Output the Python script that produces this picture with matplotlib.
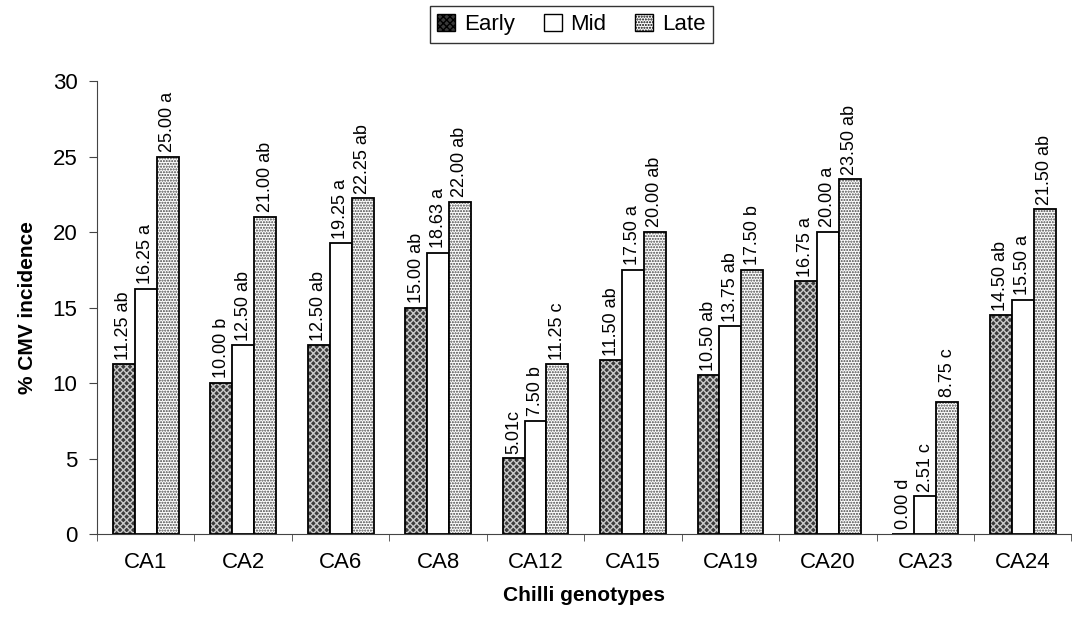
import numpy as np
import matplotlib
matplotlib.use('Agg')
import matplotlib.pyplot as plt
from matplotlib.patches import Patch

plt.rcParams['font.family'] = ['Liberation Sans', 'DejaVu Sans']

genotypes = ['CA1', 'CA2', 'CA6', 'CA8', 'CA12', 'CA15', 'CA19', 'CA20', 'CA23', 'CA24']
early = [11.25, 10.00, 12.50, 15.00, 5.01, 11.50, 10.50, 16.75, 0.00, 14.50]
mid = [16.25, 12.50, 19.25, 18.63, 7.50, 17.50, 13.75, 20.00, 2.51, 15.50]
late = [25.00, 21.00, 22.25, 22.00, 11.25, 20.00, 17.50, 23.50, 8.75, 21.50]
early_lbl = ['11.25 ab', '10.00 b', '12.50 ab', '15.00 ab', '5.01c', '11.50 ab', '10.50 ab', '16.75 a', '0.00 d', '14.50 ab']
mid_lbl = ['16.25 a', '12.50 ab', '19.25 a', '18.63 a', '7.50 b', '17.50 a', '13.75 ab', '20.00 a', '2.51 c', '15.50 a']
late_lbl = ['25.00 a', '21.00 ab', '22.25 ab', '22.00 ab', '11.25 c', '20.00 ab', '17.50 b', '23.50 ab', '8.75 c', '21.50 ab']

fig = plt.figure(figsize=(10.72, 6.17), dpi=100)
ax = fig.add_axes([0.0905, 0.1345, 0.909, 0.7342])

x = np.arange(len(genotypes))
w = 0.225

# Early: dark with light cross pattern
ax.bar(x - w, early, w, color='#3a3a3a', hatch='xxxxx', edgecolor='#c8c8c8', linewidth=0)
ax.bar(x - w, early, w, fill=False, edgecolor='black', linewidth=1.3)
# Mid: plain white
ax.bar(x, mid, w, color='white', edgecolor='black', linewidth=1.3)
# Late: white with dots
ax.bar(x + w, late, w, color='white', hatch='......', edgecolor='#444444', linewidth=0)
ax.bar(x + w, late, w, fill=False, edgecolor='black', linewidth=1.3)

for vals, lbls, off in [(early, early_lbl, -w), (mid, mid_lbl, 0), (late, late_lbl, w)]:
    for xi, v, t in zip(x, vals, lbls):
        ax.text(xi + off, v + 0.3, t, rotation=90, ha='center', va='bottom', fontsize=13)

ax.set_xlim(-0.5, len(genotypes) - 0.5)
ax.set_ylim(0, 30)
ax.set_yticks([0, 5, 10, 15, 20, 25, 30])
ax.set_xticks(x)
ax.set_xticklabels(genotypes)
ax.set_xticks(np.arange(len(genotypes) + 1) - 0.5, minor=True)
ax.tick_params(axis='x', which='major', length=0, pad=13, labelsize=16)
ax.tick_params(axis='x', which='minor', length=5, direction='out', color='#444444')
ax.tick_params(axis='y', length=6, direction='out', labelsize=16, pad=8, color='#444444')
ax.spines['top'].set_visible(False)
ax.spines['right'].set_visible(False)
ax.spines['left'].set_color('#444444')
ax.spines['bottom'].set_color('#444444')

ax.set_xlabel('Chilli genotypes', fontsize=15, fontweight='bold', labelpad=9)
ax.set_ylabel('% CMV incidence', fontsize=15, fontweight='bold', labelpad=11)

handles = [Patch(facecolor='#3a3a3a', hatch='xxxxx', edgecolor='black', label='Early'),
           Patch(facecolor='white', edgecolor='black', label='Mid'),
           Patch(facecolor='white', hatch='......', edgecolor='black', label='Late')]
leg = fig.legend(handles=handles, loc='upper center', bbox_to_anchor=(0.533, 0.99), ncol=3,
                 fontsize=16, frameon=True, fancybox=False, edgecolor='black',
                 handlelength=0.8, handleheight=0.8, handletextpad=0.4, columnspacing=1.3,
                 borderpad=0.35, borderaxespad=0)
leg.get_frame().set_linewidth(1.0)

fig.savefig('out.png', dpi=100)
